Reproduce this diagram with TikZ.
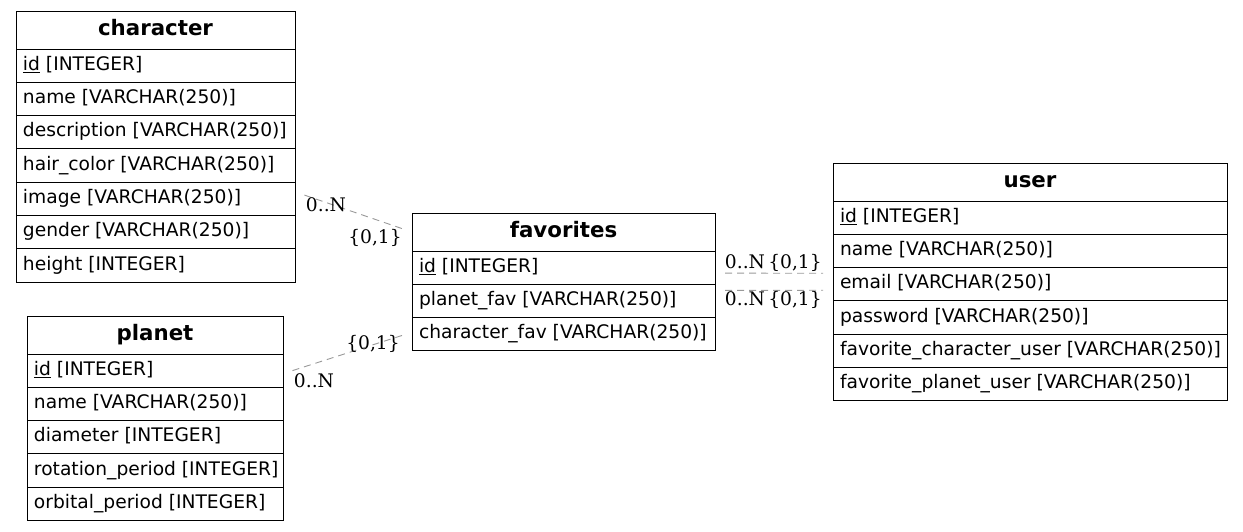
\documentclass[tikz,border=0pt]{standalone}
\usepackage{fontspec}
\setmainfont{DejaVu Sans}
\newfontfamily\lblfont{DejaVu Serif}
\tikzset{
  tbox/.style={draw=black, line width=1pt, anchor=north west, inner xsep=7pt, inner ysep=0pt, outer sep=0pt},
  hdr/.style={tbox, minimum height=38pt, font=\fontsize{21.33}{24}\selectfont\bfseries,
    text height=15.6pt, text depth=5.1pt},
  rowbox/.style={tbox, minimum height=33.3pt, font=\fontsize{18.67}{22}\selectfont,
    text height=13.6pt, text depth=4.5pt},
  rel/.style={draw=black!40, line width=0.9pt, dash pattern=on 7pt off 5pt, shorten <=10pt, shorten >=10pt},
  lbl/.style={font=\lblfont\fontsize{18.67}{22}\selectfont, inner sep=0pt, text height=13.6pt, text depth=4.5pt}
}
\newcommand\ertable[6]{%
  \pgfmathsetmacro\ertw{#4-14}%
  \node[hdr, minimum width=#4pt] (#1) at (#2,#3) {\makebox[\ertw pt][c]{#5}};
  \foreach \r [count=\i] in {#6}{%
    \pgfmathtruncatemacro\j{\i-1}%
    \ifnum\j=0 \def\erprev{#1}\else\edef\erprev{#1-\j}\fi
    \node[rowbox, minimum width=#4pt] (#1-\i) at (\erprev.south west) {\makebox[\ertw pt][l]{\r}};
  }%
}
\begin{document}
\begin{tikzpicture}[x=1pt,y=-1pt]
\useasboundingbox (0,0) rectangle (1243,531);
\ertable{char}{16}{11}{279}{character}{{\underline{id} [INTEGER]},{name [VARCHAR(250)]},{description [VARCHAR(250)]},{hair\_color [VARCHAR(250)]},{image [VARCHAR(250)]},{gender [VARCHAR(250)]},{height [INTEGER]}}
\ertable{planet}{27}{316}{256}{planet}{{\underline{id} [INTEGER]},{name [VARCHAR(250)]},{diameter [INTEGER]},{rotation\_period [INTEGER]},{orbital\_period [INTEGER]}}
\ertable{fav}{412}{213}{303}{favorites}{{\underline{id} [INTEGER]},{planet\_fav [VARCHAR(250)]},{character\_fav [VARCHAR(250)]}}
\ertable{user}{833}{163}{394}{user}{{\underline{id} [INTEGER]},{name [VARCHAR(250)]},{email [VARCHAR(250)]},{password [VARCHAR(250)]},{favorite\_character\_user [VARCHAR(250)]},{favorite\_planet\_user [VARCHAR(250)]}}

\draw[rel] ([yshift=7pt]char-5.east) -- (fav.west);
\draw[rel] ([yshift=-3pt]planet-1.east) -- ([yshift=2pt]fav-3.west);
\draw[rel] ([yshift=-5.5pt]fav-1.east) -- ([yshift=11pt]user-3.west);
\draw[rel] ([yshift=10.5pt]fav-2.east) -- ([yshift=-6pt]user-3.west);

\node[lbl] (c1) at (326,207) {0..N};
\node[lbl] (c2) at (375,239) {\{0,1\}};
\node[lbl] (p1) at (373,345) {\{0,1\}};
\node[lbl] (p2) at (314,383) {0..N};
\node[lbl] (u1) at (745,264) {0..N};
\node[lbl] (u2) at (795,264) {\{0,1\}};
\node[lbl] (u3) at (745,301) {0..N};
\node[lbl] (u4) at (795,301) {\{0,1\}};
\end{tikzpicture}
\end{document}
